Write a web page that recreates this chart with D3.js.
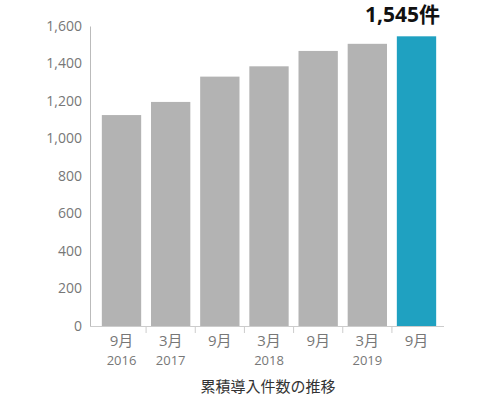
<!DOCTYPE html><html><head><meta charset="utf-8"><script src="https://cdn.jsdelivr.net/npm/d3@7"></script>
<style>body{margin:0;background:#fff}text{font-family:"Open Sans","Noto Sans CJK JP",sans-serif}</style></head><body>
<svg id="c" width="490" height="400"></svg>
<script>
const months=["9月","3月","9月","3月","9月","3月","9月"];
const years=["2016","2017","","2018","","2019",""];
const values=[1125,1195,1330,1385,1467,1505,1545];
const yTicks=[0,200,400,600,800,1000,1200,1400,1600];
const label="1,545件", title="累積導入件数の推移";
const svg=d3.select("#c");
const idx=d3.range(values.length);
const x=d3.scaleBand().domain(idx).range([92,446]).paddingInner(0.2).paddingOuter(0.2);
const y=d3.scaleLinear().domain([0,1600]).range([326,26]);
svg.selectAll("rect").data(idx).join("rect").attr("x",i=>x(i)).attr("width",x.bandwidth())
 .attr("y",i=>y(values[i])).attr("height",i=>y(0)-y(values[i]))
 .attr("fill",i=>i===values.length-1?"#1fa1c1":"#b3b3b3");
const ya=svg.append("g").attr("transform","translate(90,0)").call(d3.axisLeft(y).tickValues(yTicks).tickSize(0).tickPadding(8).tickFormat(d3.format(",")));
ya.select(".domain").attr("stroke","#bbb");
ya.selectAll("text").attr("fill","#777").style("font-size","14px");
svg.append("line").attr("x1",90).attr("x2",444).attr("y1",326.5).attr("y2",326.5).attr("stroke","#ccc");
idx.slice(1).forEach(i=>{const xx=x(i)-x.step()*0.1;svg.append("line").attr("x1",xx).attr("x2",xx).attr("y1",327).attr("y2",333).attr("stroke","#ccc");});
svg.selectAll(".m").data(idx).join("text").attr("x",i=>x(i)+x.bandwidth()/2).attr("y",346).attr("text-anchor","middle").attr("fill","#777").style("font-size","15px").text(i=>months[i]);
svg.selectAll(".yr").data(idx).join("text").attr("x",i=>x(i)+x.bandwidth()/2).attr("y",365).attr("text-anchor","middle").attr("fill","#777").style("font-size","13px").text(i=>years[i]);
const last=values.length-1;
svg.append("text").attr("x",x(last)+x.bandwidth()/2-14).attr("y",22).attr("text-anchor","middle").attr("fill","#111").style("font-size","21px").style("font-weight","bold").text(label);
svg.append("text").attr("x",268).attr("y",392).attr("text-anchor","middle").attr("fill","#333").style("font-size","15px").text(title);
</script></body></html>
